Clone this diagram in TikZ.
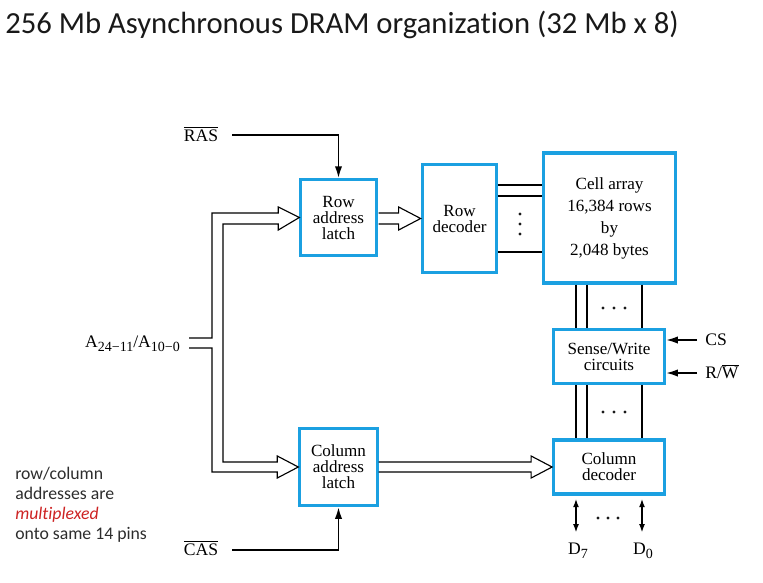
\documentclass[tikz,border=0pt]{standalone}
\usepackage{fontspec}
\setmainfont{Liberation Serif}
\newfontfamily\notefont[Ligatures=NoCommon]{Carlito}
\usetikzlibrary{arrows.meta,calc}
\definecolor{boxblue}{RGB}{27,160,225}
\definecolor{notered}{RGB}{205,35,35}
\definecolor{ink}{RGB}{25,25,25}
\definecolor{notegray}{RGB}{45,45,45}
\newcommand\ovl[1]{\ensuremath{\overline{\mbox{#1}}}}
\newcommand\sbs[1]{\raisebox{-0.55ex}{\fontsize{10.5}{10.5}\selectfont #1}}
\begin{document}
\begin{tikzpicture}[x=0.75pt,y=-0.75pt,
  blk/.style={draw=boxblue,line width=2.3pt,fill=white,inner sep=0pt,align=center,
    font=\fontsize{12.8}{12}\selectfont},
  lbl/.style={inner sep=0pt,font=\fontsize{13.2}{13}\selectfont},
  wire/.style={line width=0.85pt,line join=miter},
  sig/.style={line width=1.4pt,-{Latex[length=9pt,width=5.5pt]}},
  dsig/.style={line width=1.3pt,{Latex[length=6.5pt,width=4.5pt]}-{Latex[length=6.5pt,width=4.5pt]}},
  dotc/.style={fill=ink,draw=none}]
\useasboundingbox (0,0) rectangle (763,582);

% title
\node[anchor=west,inner sep=0pt,text=ink,font=\notefont\fontsize{23}{26}\selectfont] (title) at (5,25)
  {256 Mb Asynchronous DRAM organization (32 Mb x 8)};

% blocks
\node[blk,minimum width=56.5pt,minimum height=56.5pt] (rl) at (338.5,217.5) {Row\\address\\latch};
\node[blk,minimum width=56pt,minimum height=81pt] (rd) at (459.5,218.5) {Row\\decoder};
\node[blk,minimum width=98.5pt,minimum height=97.5pt,
  font=\fontsize{12.8}{16.5}\selectfont] (ca) at (609.5,218) {Cell array\\16,384 rows\\by\\2,048 bytes};
\node[blk,minimum width=83pt,minimum height=40.5pt] (sw) at (609,356.5) {Sense/Write\\circuits};
\node[blk,minimum width=83pt,minimum height=40.5pt] (cd) at (609,467) {Column\\decoder};
\node[blk,minimum width=58pt,minimum height=57.5pt] (cl) at (338.5,467) {Column\\address\\latch};

% labels
\node[lbl] (ras) at (201,134) {\ovl{RAS}};
\node[lbl] (cas) at (201,548) {\ovl{CAS}};
\node[lbl] (addr) at (132.5,344) {A\sbs{24−11}/A\sbs{10−0}};
\node[lbl,anchor=west] (cs) at (705,340) {CS};
\node[lbl,anchor=west] (rw) at (705,372) {R/\ovl{W}};
\node[lbl] (d7) at (578,551) {D\sbs{7}};
\node[lbl] (d0) at (643,551) {D\sbs{0}};

% address bus: split to row and column latches
\draw[wire] (189,338) -| (212,213)
  -- ($(rl.west)+(-21,-4.5)$) -- ++(0,-6) -- (rl.west) -- ($(rl.west)+(-21,12.5)$) -- ++(0,-6)
  -| (223,462)
  -- ($(cl.west)+(-21,-5)$) -- ++(0,-6) -- (cl.west) -- ($(cl.west)+(-21,11)$) -- ++(0,-6)
  -- (212,472) |- (189,348);

% row latch -> row decoder
\draw[wire] ($(rd.west)+(-42,-5.5)$) -- ($(rd.west)+(-22,-5.5)$) -- ++(0,-6) -- (rd.west)
  -- ($(rd.west)+(-22,11.5)$) -- ++(0,-6) -- ($(rd.west)+(-42,5.5)$);

% column latch -> column decoder
\draw[wire] ($(cl.east)+(0,-5)$) -- ($(cd.west)+(-21,-5)$) -- ++(0,-6) -- (cd.west)
  -- ($(cd.west)+(-21,11)$) -- ++(0,-6) -- ($(cl.east)+(0,5)$);

% RAS / CAS
\draw[sig] ($(ras.east)+(14,1)$) -| (rl.north);
\draw[sig] ($(cas.east)+(14,2)$) -| (cl.south);

% row decoder -> cell array word lines
\foreach \yy in {185,196,252}
  \draw[line width=1.3pt] (rd.east |- 0,\yy) -- (ca.west |- 0,\yy);
\foreach \yy in {214,224,234}
  \fill[dotc] (520,\yy) circle (1.7);

% cell array <-> sense/write <-> column decoder
\foreach \xx in {576,587,642}{
  \draw[line width=1.1pt] (ca.south -| \xx,0) -- (sw.north -| \xx,0);
  \draw[line width=1.1pt] (sw.south -| \xx,0) -- (cd.north -| \xx,0);
}
\foreach \xx in {603,614,625}{
  \fill[dotc] (\xx,308) circle (1.6);
  \fill[dotc] (\xx,412) circle (1.6);
}

% CS, R/W
\draw[sig] ($(cs.west)+(-8,0)$) -- (sw.east |- cs.west);
\draw[sig] ($(rw.west)+(-8,1)$) -- (sw.east |- 0,373);

% data lines
\draw[dsig] ($(d7.north)+(-2,-10)$) -- ($(cd.south -| 576,0)+(0,3)$);
\draw[dsig] ($(d0.north)+(-1,-10)$) -- ($(cd.south -| 642,0)+(0,3)$);
\foreach \xx in {598,608,618}
  \fill[dotc] (\xx,518) circle (1.6);

% side note
\node[anchor=north west,inner sep=0pt,align=left,text=notegray,
  font=\notefont\fontsize{13.3}{15}\selectfont] (note) at (15,467)
  {row/column\\addresses are\\{\color{notered}\itshape multiplexed}\\onto same 14 pins};
\end{tikzpicture}
\end{document}
